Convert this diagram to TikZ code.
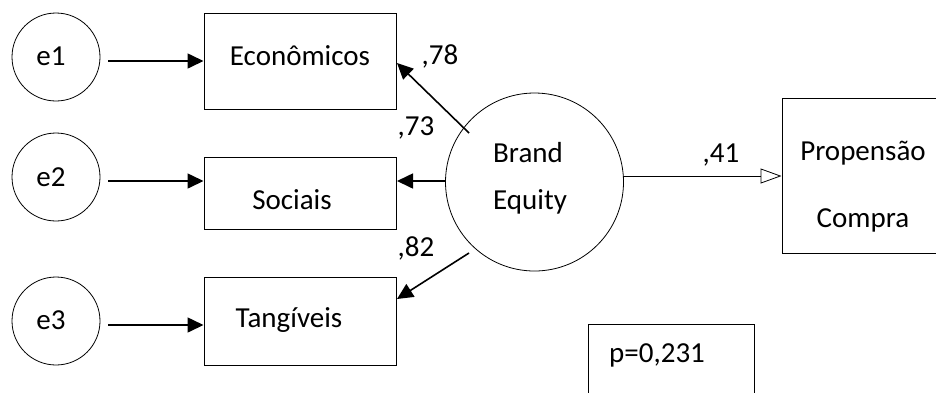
\documentclass[tikz,border=0pt]{standalone}
\usepackage{fontspec}
\setmainfont{Carlito}
\usetikzlibrary{arrows.meta}
\begin{document}
\begin{tikzpicture}[x=1pt,y=-1pt,
  lbl/.style={font=\fontsize{29}{35}\selectfont, inner sep=0pt},
  errc/.style={draw, circle, line width=0.8pt, minimum size=88pt, inner sep=0pt},
  obs/.style={draw, rectangle, line width=1pt, inner sep=0pt},
  sarrow/.style={line width=1.6pt, -{Triangle[length=16pt,width=15pt]}},
  oarrow/.style={line width=0.8pt, -{Triangle[open,length=21pt,width=15pt]}}]
\useasboundingbox (0,0) rectangle (936,392);
% error circles
\node[errc] (e1) at (56,57) {};
\node[errc] (e2) at (56,177) {};
\node[errc] (e3) at (56,321) {};
\node[lbl] at (51,56) {e1};
\node[lbl] at (51,177) {e2};
\node[lbl] at (51,320) {e3};
% observed boxes
\node[obs, minimum width=192pt, minimum height=96pt] (eco) at (300,61) {};
\node[obs, minimum width=192pt, minimum height=72pt] (soc) at (300,193) {};
\node[obs, minimum width=192pt, minimum height=88pt] (tan) at (300,321) {};
\node[lbl] at (300,56) {Econômicos};
\node[lbl] at (292,200) {Sociais};
\node[lbl] at (289,320) {Tangíveis};
% latent
\node[draw, circle, line width=0.8pt, minimum size=178pt, inner sep=0pt] (be) at (534.5,182) {};
\node[lbl, anchor=west] at (493,153) {Brand};
\node[lbl, anchor=west] at (493,202) {Equity};
% outcome box
\node[obs, minimum width=156pt, minimum height=155pt] (pc) at (860,175.5) {};
\node[lbl] at (863,153) {Propensão};
\node[lbl] at (863,220) {Compra};
% p-value box
\node[obs, minimum width=166pt, minimum height=80pt, anchor=north west] (pv) at (588,324) {};
\node[lbl, anchor=west] at (609,355) {p=0,231};
% error arrows
\coordinate (a1) at (108,61);
\coordinate (a2) at (108,181);
\coordinate (a3) at (108,325);
\draw[sarrow] (a1) -- (a1 -| eco.west);
\draw[sarrow] (a2) -- (a2 -| soc.west);
\draw[sarrow] (a3) -- (a3 -| tan.west);
% loadings
\coordinate (s1) at (469,133);
\coordinate (t1) at (397,63);
\coordinate (t2) at (397,181);
\coordinate (s3) at (469,253);
\coordinate (t3) at (397,299);
\draw[sarrow] (s1) -- (t1);
\draw[sarrow] (be.west |- t2) -- (t2);
\draw[sarrow] (s3) -- (t3);
\node[lbl] at (440,56) {,78};
\node[lbl] at (416,128) {,73};
\node[lbl] at (416,248) {,82};
% structural path
\coordinate (p1) at (623,176);
\draw[oarrow] (p1) -- (p1 -| pc.west);
\node[lbl] at (721,155) {,41};
\end{tikzpicture}
\end{document}
